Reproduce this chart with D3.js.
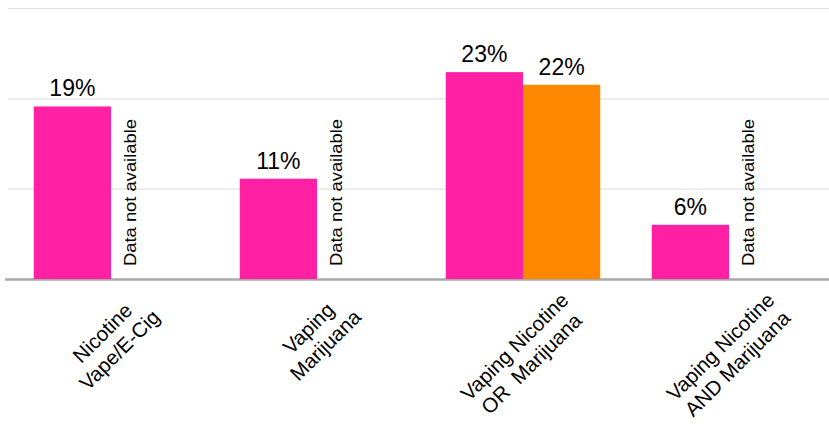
<!DOCTYPE html>
<html>
<head>
<meta charset="utf-8">
<script src="https://cdn.jsdelivr.net/npm/d3@7"></script>
<style>
  html, body { margin: 0; padding: 0; background: #fff; }
  text { font-family: "Liberation Sans", Arial, Helvetica, sans-serif; fill: #000; }
</style>
</head>
<body>
<div id="chart"></div>
<script>
// chart data
const categories = [
  ["Nicotine", "Vape/E-Cig"],
  ["Vaping", "Marijuana"],
  ["Vaping Nicotine", "OR  Marijuana"],
  ["Vaping Nicotine", "AND Marijuana"]
];
const seriesNames = ["Series 1", "Series 2"];
const series1 = [19.1, 11.1, 22.9, 6.0];
const series2 = [null, null, 21.5, null];   // null = data not available
const gridTicks = [10, 20, 30];
const missingLabel = "Data not available";
const colors = ["#ff20a4", "#ff8800"];

const width = 829, height = 424;

const svg = d3.select('#chart')
  .append('svg')
  .attr('width', width)
  .attr('height', height);

const y = d3.scaleLinear().domain([0, 30]).range([279, 8]);

const x0 = d3.scaleBand()
  .domain(d3.range(categories.length))
  .range([8, 832])
  .paddingInner(0.25)
  .paddingOuter(0.125);

const x1 = d3.scaleBand()
  .domain(seriesNames)
  .range([0, x0.bandwidth()]);

// horizontal gridlines
const grid = svg.append('g')
  .attr('transform', 'translate(8,0)')
  .call(d3.axisLeft(y).tickValues(gridTicks).tickSize(-(width - 8)).tickFormat(''));
grid.select('.domain').remove();
grid.selectAll('line').attr('stroke', '#e2e2e2').attr('stroke-width', 1.2);

// baseline
svg.append('line')
  .attr('x1', 5).attr('x2', width)
  .attr('y1', y(0) + 0.5).attr('y2', y(0) + 0.5)
  .attr('stroke', '#a8a8a8')
  .attr('stroke-width', 2.5);

// build rows from the arrays
const rows = [];
categories.forEach((c, i) => {
  [series1, series2].forEach((s, j) => {
    rows.push({ i: i, key: seriesNames[j], value: s[i], color: colors[j] });
  });
});

const groups = svg.selectAll('.bar-group')
  .data(rows)
  .enter()
  .append('g')
  .attr('transform', d => `translate(${x0(d.i) + x1(d.key)},0)`);

// bars
groups.filter(d => d.value != null)
  .append('rect')
  .attr('x', 0)
  .attr('width', x1.bandwidth())
  .attr('y', d => y(d.value))
  .attr('height', d => y(0) - y(d.value))
  .attr('fill', d => d.color);

// value labels
groups.filter(d => d.value != null)
  .append('text')
  .attr('x', x1.bandwidth() / 2)
  .attr('y', d => y(d.value) - 10)
  .attr('text-anchor', 'middle')
  .style('font-size', '23px')
  .text(d => Math.round(d.value) + '%');

// missing data notes
groups.filter(d => d.value == null)
  .append('text')
  .attr('transform', `translate(25,${y(0) - 13}) rotate(-90)`)
  .attr('textLength', 147)
  .attr('lengthAdjust', 'spacingAndGlyphs')
  .style('font-size', '17px')
  .text(missingLabel);

// category labels, rotated
const labels = svg.selectAll('.cat-label')
  .data(categories)
  .enter()
  .append('g')
  .attr('class', 'cat-label');

labels.each(function(lines, i) {
  const g = d3.select(this);
  const t = g.append('text')
    .attr('text-anchor', 'middle')
    .style('font-size', '20.5px')
    .style('white-space', 'pre');
  lines.forEach((line, k) => {
    t.append('tspan')
      .attr('x', 0)
      .attr('y', (k - (lines.length - 1) / 2) * 24 + 7)
      .text(line);
  });
  let maxLen = 0;
  t.selectAll('tspan').each(function() {
    maxLen = Math.max(maxLen, this.getComputedTextLength());
  });
  const cx = x0(i) + x0.bandwidth() / 2;
  const cy = 305 + 0.3536 * maxLen;
  g.attr('transform', `translate(${cx},${cy}) rotate(-45)`);
});
</script>
</body>
</html>
